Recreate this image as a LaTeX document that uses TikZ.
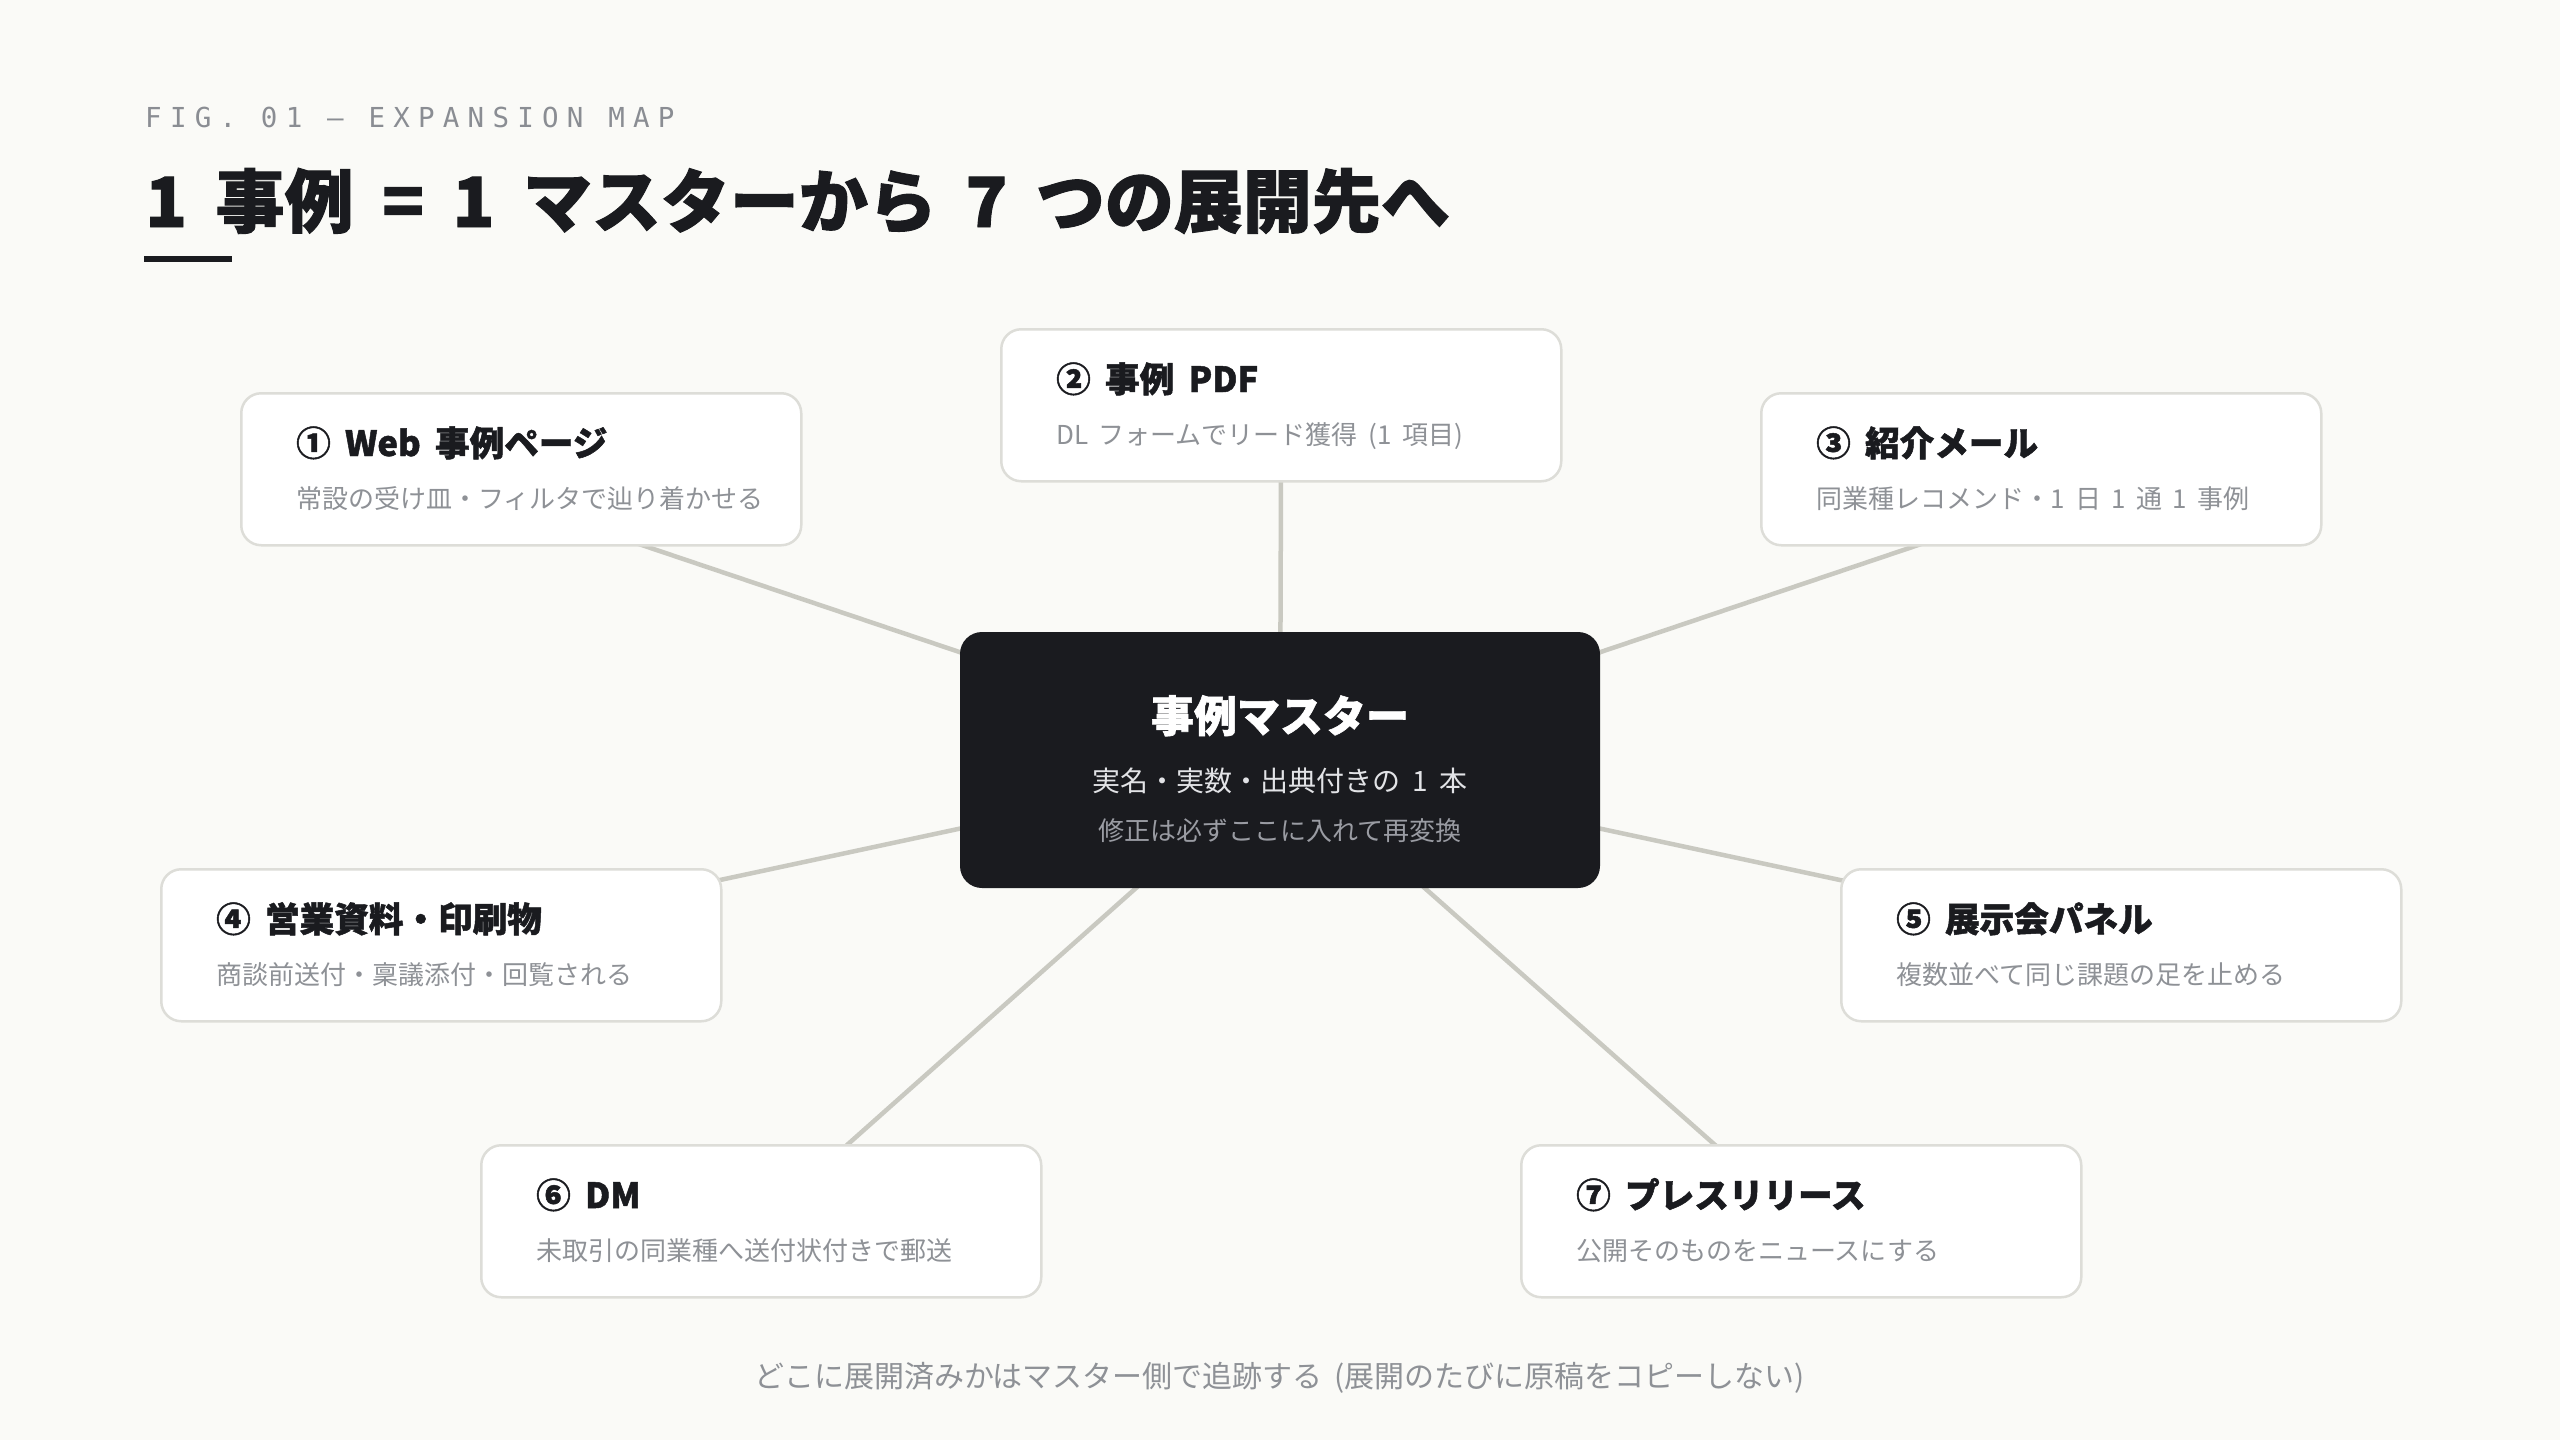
\documentclass[tikz,border=0pt]{standalone}
\usepackage{fontspec}
\usetikzlibrary{backgrounds}
\newfontfamily\jp[WordSpace=1.8]{Noto Sans CJK JP}
\newfontfamily\jph[WordSpace=1.8,BoldFeatures={FakeBold=1.4}]{Noto Sans CJK JP}
\newfontfamily\monof[LetterSpace=30]{DejaVu Sans Mono}
\definecolor{bgc}{HTML}{FAFAF7}
\definecolor{ink}{HTML}{1A1B1F}
\definecolor{subg}{HTML}{8E9196}
\definecolor{figg}{HTML}{8A8D93}
\definecolor{cardline}{HTML}{DDDDD8}
\definecolor{connc}{HTML}{C9C9C1}
\definecolor{mline2}{HTML}{E2E3E6}
\definecolor{mline3}{HTML}{9A9CA3}
\tikzset{
  cardbox/.style={draw=cardline, line width=2.5pt, fill=white, rounded corners=20pt,
    minimum width=560pt, minimum height=152pt, inner sep=0pt},
  cardttl/.style={inner sep=0pt, text=ink, font=\jph\bfseries\fontsize{34.6}{40}\selectfont},
  cardsub/.style={inner sep=0pt, text=subg, font=\jp\fontsize{26}{30}\selectfont},
  masterbox/.style={fill=ink, rounded corners=22pt, minimum width=640pt, minimum height=256pt, inner sep=0pt},
  conn/.style={draw=connc, line width=4.5pt},
}
\newcommand\mycard[5]{%
  \node[cardbox, anchor=north west] (#1) at (#2,#3) {};
  \node[cardttl, anchor=base west] (#1t) at (#2+56,#3+64) {#4};
  \node[cardsub, anchor=base west] (#1s) at (#2+56,#3+116) {#5};
}
\begin{document}
\begin{tikzpicture}[x=1pt,y=-1pt]
\useasboundingbox (0,0) rectangle (2560,1440);
% header
\node[inner sep=0pt, anchor=base west, text=figg, font=\monof\fontsize{27.5}{32}\selectfont] (fig) at (145,127) {FIG. 01 — EXPANSION MAP};
\node[inner sep=0pt, anchor=base west, text=ink, font=\jph\bfseries\fontsize{69}{80}\selectfont] (title) at (145,227) {1 事例 = 1 マスターから 7 つの展開先へ};
\fill[ink] (144,256) rectangle (232,262);
% master
\node[masterbox] (master) at (1280,760) {};
\node[inner sep=0pt, anchor=base, text=white, font=\jph\bfseries\fontsize{43}{48}\selectfont] (mt) at (1280,732) {事例マスター};
\node[inner sep=0pt, anchor=base, text=mline2, font=\jp\fontsize{28}{32}\selectfont] (m2) at (1280,791) {実名・実数・出典付きの 1 本};
\node[inner sep=0pt, anchor=base, text=mline3, font=\jp\fontsize{26}{30}\selectfont] (m3) at (1280,840) {修正は必ずここに入れて再変換};
% cards
\mycard{b1}{240}{392}{① Web 事例ページ}{常設の受け皿・フィルタで辿り着かせる}
\mycard{b2}{1000}{328}{② 事例 PDF}{DL フォームでリード獲得 (1 項目)}
\mycard{b3}{1760}{392}{③ 紹介メール}{同業種レコメンド・1 日 1 通 1 事例}
\mycard{b4}{160}{868}{④ 営業資料・印刷物}{商談前送付・稟議添付・回覧される}
\mycard{b5}{1840}{868}{⑤ 展示会パネル}{複数並べて同じ課題の足を止める}
\mycard{b6}{480}{1144}{⑥ DM}{未取引の同業種へ送付状付きで郵送}
\mycard{b7}{1520}{1144}{⑦ プレスリリース}{公開そのものをニュースにする}
\coordinate (e1) at (520,504);
\coordinate (e3) at (2040,504);
\coordinate (e4) at (440,940);
\coordinate (e5) at (2120,940);
% footer
\node[inner sep=0pt, anchor=base, text=subg, font=\jp\fontsize{30}{34}\selectfont] (foot) at (1280,1387) {どこに展開済みかはマスター側で追跡する (展開のたびに原稿をコピーしない)};
\begin{scope}[on background layer]
\fill[bgc] (0,0) rectangle (2560,1440);
\draw[conn] (master.center) -- (e1);
\draw[conn] (master.center) -- (b2.center);
\draw[conn] (master.center) -- (e3);
\draw[conn] (master.center) -- (e4);
\draw[conn] (master.center) -- (e5);
\draw[conn] (master.center) -- (b6.center);
\draw[conn] (master.center) -- (b7.center);
\end{scope}
\end{tikzpicture}
\end{document}
